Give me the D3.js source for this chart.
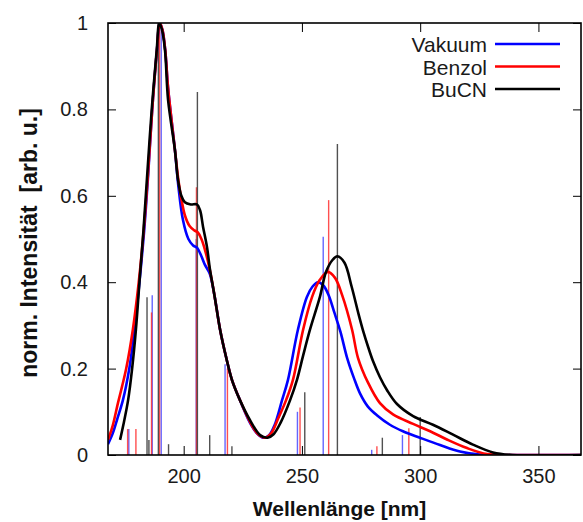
<!DOCTYPE html>
<html>
<head>
<meta charset="utf-8">
<script src="https://cdn.jsdelivr.net/npm/d3@7"></script>
<style>
body { margin: 0; background: #fff; }
text { font-family: "Liberation Sans", Arial, sans-serif; }
</style>
</head>
<body>
<svg id="drawing_region"></svg>
<script>
// broadened spectra (wavelength in nm, normalised intensity)
const vakuum_nm  = [168, 170, 172, 174.3, 177, 179.2, 181.3, 183.3, 185, 186.7, 188.7, 189.9, 191, 192.2, 193.4, 196.3, 197.8, 199.7, 202, 204, 205.6, 207.5, 209, 211, 213, 215.4, 218, 220.4, 223.8, 228, 231, 233.5, 236, 238.5, 241.6, 244.1, 248.3, 252.1, 254.5, 256.8, 259, 261.3, 263.7, 266.3, 269.1, 272, 274.6, 277.9, 281.7, 287.2, 292.7, 299.9, 308.4, 316.8, 325.3, 335, 368];
const vakuum_int = [0.025, 0.05, 0.085, 0.127, 0.2, 0.29, 0.40, 0.52, 0.65, 0.80, 0.937, 1.0, 0.985, 0.937, 0.85, 0.706, 0.62, 0.544, 0.50, 0.485, 0.48, 0.46, 0.44, 0.42, 0.37, 0.29, 0.225, 0.174, 0.127, 0.075, 0.05, 0.04, 0.045, 0.07, 0.127, 0.174, 0.29, 0.366, 0.39, 0.40, 0.393, 0.37, 0.33, 0.285, 0.225, 0.178, 0.142, 0.112, 0.092, 0.07, 0.055, 0.04, 0.023, 0.008, 0.001, 0, 0];

const benzol_nm  = [168, 170, 172.2, 174, 175.7, 178.5, 181, 183.1, 184.9, 186.7, 188.7, 189.9, 191, 192.2, 193.4, 196.3, 197.8, 198.8, 200.5, 202.5, 204.5, 206, 207.5, 209, 211, 213, 215.4, 218, 220.4, 223.8, 228, 231.5, 234.5, 237, 240, 243.3, 246.2, 250.5, 254.3, 257.5, 261, 264, 267, 271.2, 273.7, 277.9, 283, 288.5, 297, 304.2, 311.3, 319.8, 328.3, 338, 368];
const benzol_int = [0.035, 0.068, 0.12, 0.16, 0.2, 0.29, 0.40, 0.52, 0.65, 0.80, 0.937, 1.0, 0.985, 0.937, 0.85, 0.706, 0.635, 0.60, 0.555, 0.53, 0.52, 0.515, 0.50, 0.475, 0.43, 0.37, 0.29, 0.225, 0.174, 0.127, 0.077, 0.048, 0.04, 0.05, 0.085, 0.127, 0.174, 0.29, 0.366, 0.405, 0.424, 0.41, 0.37, 0.29, 0.225, 0.168, 0.12, 0.094, 0.072, 0.055, 0.036, 0.016, 0.002, 0, 0];

const bucn_nm  = [173.1, 174.5, 176.5, 178.2, 179.8, 181.3, 183, 184.6, 186.5, 188.6, 189.7, 190.8, 192.1, 193.4, 196.3, 197.6, 199, 200.5, 203, 205.6, 206.9, 208.2, 209.9, 211.1, 213, 215.4, 218, 220.4, 223.8, 228, 232.3, 235.5, 238, 241, 245, 247.9, 250.5, 253.4, 257.6, 260.2, 263, 265, 268, 271, 274, 276, 278, 280, 283, 286, 290.2, 297, 305.4, 313.9, 322.3, 330.8, 339, 368];
const bucn_int = [0.035, 0.07, 0.127, 0.2, 0.29, 0.40, 0.52, 0.65, 0.80, 0.937, 1.0, 0.985, 0.937, 0.822, 0.706, 0.637, 0.60, 0.585, 0.58, 0.58, 0.567, 0.528, 0.48, 0.43, 0.37, 0.29, 0.225, 0.174, 0.127, 0.081, 0.046, 0.04, 0.048, 0.075, 0.127, 0.174, 0.23, 0.29, 0.366, 0.424, 0.452, 0.46, 0.445, 0.39, 0.325, 0.285, 0.25, 0.218, 0.18, 0.15, 0.118, 0.09, 0.07, 0.047, 0.024, 0.006, 0, 0];

// stick spectra (excitations)
const vakuum_stick_nm = [176.8, 186.7, 190.5, 205.3, 217.5, 248.1, 259.0, 279.5, 292.5];
const vakuum_stick_h  = [0.06, 0.37, 1.0, 0.5, 0.21, 0.10, 0.505, 0.012, 0.046];
const benzol_stick_nm = [176.3, 179.8, 186.4, 189.8, 205.4, 218.5, 249.2, 261.3, 281.7, 295.2];
const benzol_stick_h  = [0.06, 0.06, 0.33, 1.0, 0.62, 0.2, 0.11, 0.59, 0.02, 0.062];
const bucn_stick_nm = [184.5, 185.3, 189.3, 193.6, 205.8, 211.0, 220.4, 251.2, 265.0, 284.0, 300.0];
const bucn_stick_h  = [0.365, 0.035, 1.0, 0.025, 0.84, 0.046, 0.02, 0.145, 0.72, 0.04, 0.088];

const series_names = ['Vakuum', 'Benzol', 'BuCN'];
const x_ticks = [200, 250, 300, 350];
const y_ticks = [0, 0.2, 0.4, 0.6, 0.8, 1];

const zip = (xs, ys) => xs.map((x, i) => ({x: x, y: ys[i]}));

const series = [
    {name: series_names[0], color: '#0000ff', stick: '#4a4aff', curve: zip(vakuum_nm, vakuum_int), sticks: zip(vakuum_stick_nm, vakuum_stick_h)},
    {name: series_names[1], color: '#ff0000', stick: '#ff3030', curve: zip(benzol_nm, benzol_int), sticks: zip(benzol_stick_nm, benzol_stick_h)},
    {name: series_names[2], color: '#000000', stick: '#333333', curve: zip(bucn_nm, bucn_int), sticks: zip(bucn_stick_nm, bucn_stick_h)}
];

var config = {
    parent: '#drawing_region',
    width: 583,
    height: 522,
    margin: {top:23, right:2, bottom:67, left:108}
};

const chart = new SpectrumChart(config, series);
chart.render();

function SpectrumChart(config, data) {
    let self = this;
    self.config = config;
    self.data = data;

    self.svg = d3.select(config.parent)
        .attr('width', config.width)
        .attr('height', config.height);

    self.inner_width = config.width - config.margin.left - config.margin.right;
    self.inner_height = config.height - config.margin.top - config.margin.bottom;

    self.xscale = d3.scaleLinear()
        .domain([168, 368])
        .range([0, self.inner_width]);
    self.yscale = d3.scaleLinear()
        .domain([0, 1])
        .range([self.inner_height, 0]);

    self.chart = self.svg.append('g')
        .attr('transform', `translate(${config.margin.left}, ${config.margin.top})`);

    self.render = function() {
        const W = self.inner_width, H = self.inner_height;

        self.chart.append('clipPath').attr('id', 'clip')
            .append('rect').attr('width', W).attr('height', H);

        const plot = self.chart.append('g').attr('clip-path', 'url(#clip)');

        // sticks
        self.data.forEach(s => {
            plot.selectAll(null)
                .data(s.sticks)
                .join('line')
                .attr('x1', d => self.xscale(d.x))
                .attr('x2', d => self.xscale(d.x))
                .attr('y1', H)
                .attr('y2', d => self.yscale(d.y))
                .attr('stroke', s.stick)
                .attr('stroke-opacity', 0.85)
                .attr('stroke-width', 1.4);
        });

        const line = d3.line()
            .x(d => self.xscale(d.x))
            .y(d => self.yscale(d.y))
            .curve(d3.curveCatmullRom.alpha(0.5));

        self.data.forEach(s => {
            plot.append('path')
                .attr('d', line(s.curve))
                .attr('fill', 'none')
                .attr('stroke', s.color)
                .attr('stroke-width', 2.6)
                .attr('stroke-linejoin', 'round');
        });

        // axes, ticks inside
        const xb = d3.axisBottom(self.xscale).tickValues(x_ticks).tickSizeInner(-9).tickSizeOuter(0).tickPadding(14);
        const xt = d3.axisTop(self.xscale).tickValues(x_ticks).tickSizeInner(-9).tickSizeOuter(0).tickFormat('');
        const yl = d3.axisLeft(self.yscale).tickValues(y_ticks).tickSizeInner(-8).tickSizeOuter(0).tickPadding(20).tickFormat(d3.format('~g'));
        const yr = d3.axisRight(self.yscale).tickValues(y_ticks).tickSizeInner(-8).tickSizeOuter(0).tickFormat('');

        const axes = [
            self.chart.append('g').attr('transform', `translate(0, ${H})`).call(xb),
            self.chart.append('g').call(xt),
            self.chart.append('g').call(yl),
            self.chart.append('g').attr('transform', `translate(${W}, 0)`).call(yr)
        ];
        axes.forEach(a => {
            a.select('.domain').remove();
            a.selectAll('.tick line').attr('stroke', '#000').attr('stroke-width', 1);
            a.selectAll('text').attr('font-size', '20px').attr('fill', '#1a1a1a')
                .style('font-family', '"Liberation Sans", Arial, sans-serif');
        });

        self.chart.append('rect')
            .attr('width', W).attr('height', H)
            .attr('fill', 'none')
            .attr('stroke', '#000')
            .attr('stroke-width', 1.6);

        // legend
        const legend = self.chart.append('g');
        self.data.forEach((s, i) => {
            const y = 21 + i * 22.5;
            legend.append('text')
                .attr('x', 379).attr('y', y + 8)
                .attr('text-anchor', 'end')
                .attr('font-size', '21px')
                .attr('fill', '#1a1a1a')
                .text(s.name);
            legend.append('line')
                .attr('x1', 387).attr('x2', 452)
                .attr('y1', y).attr('y2', y)
                .attr('stroke', s.color)
                .attr('stroke-width', 2.6);
        });

        // axis titles
        self.svg.append('text')
            .attr('x', config.margin.left + W / 2 - 5)
            .attr('y', 516)
            .attr('text-anchor', 'middle')
            .attr('font-size', '21px')
            .attr('font-weight', 'bold')
            .attr('fill', '#111')
            .text('Wellenlänge [nm]');

        self.svg.append('text')
            .attr('transform', `translate(37, ${config.margin.top + H / 2 + 4}) rotate(-90)`)
            .attr('text-anchor', 'middle')
            .attr('font-size', '23px')
            .attr('font-weight', 'bold')
            .attr('fill', '#111')
            .attr('xml:space', 'preserve')
            .style('white-space', 'pre')
            .text('norm. Intensität  [arb. u.]');
    };
}
</script>
</body>
</html>
